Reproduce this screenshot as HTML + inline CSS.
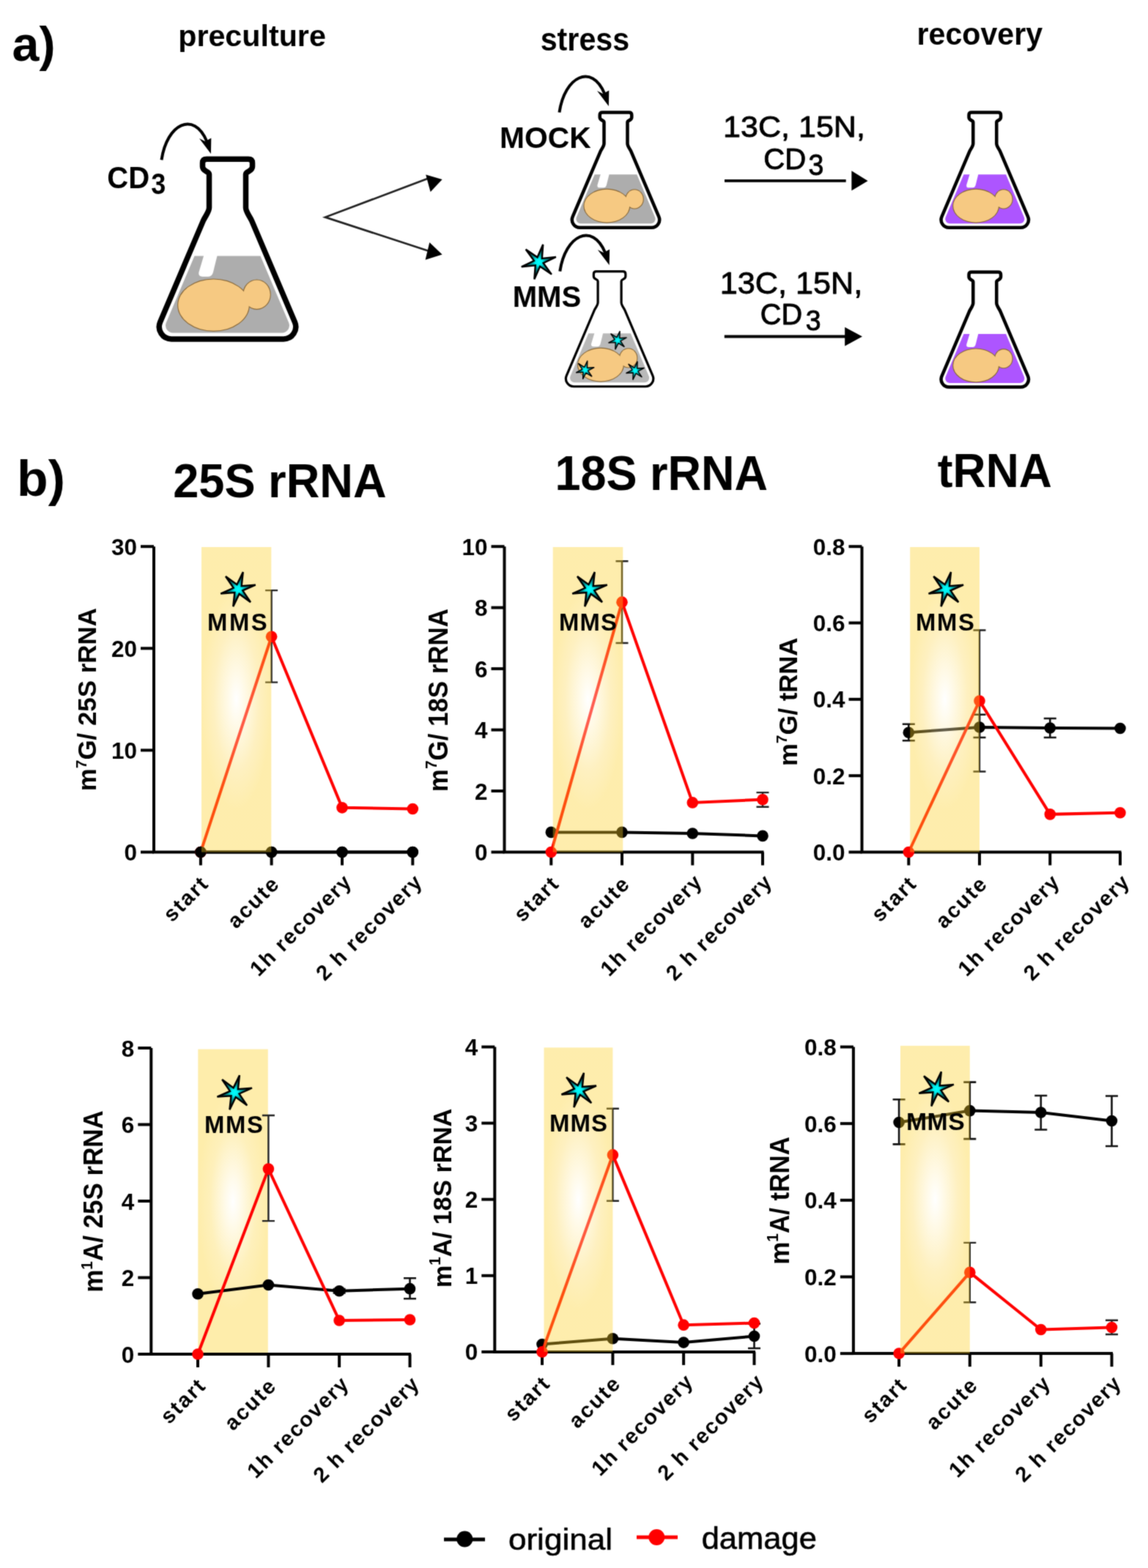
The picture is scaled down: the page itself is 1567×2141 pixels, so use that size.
<!DOCTYPE html>
<html><head><meta charset="utf-8"><title>Figure</title>
<style>html,body{margin:0;padding:0;background:#fff;}svg{display:block;}</style>
</head><body>
<svg width="1567" height="2141" viewBox="0 0 1567 2141" font-family="'Liberation Sans', Arial, Helvetica, sans-serif">

<defs>
  <filter id="soft" x="0" y="0" width="1" height="1" filterUnits="objectBoundingBox" color-interpolation-filters="sRGB">
    <feConvolveMatrix order="3" kernelMatrix="0.0277 0.111 0.0277 0.111 0.446 0.111 0.0277 0.111 0.0277" edgeMode="duplicate" preserveAlpha="false"/>
  </filter>
  <radialGradient id="starg" cx="0.5" cy="0.5" r="0.5">
    <stop offset="0" stop-color="#00ffff"/>
    <stop offset="0.2" stop-color="#00eeee"/>
    <stop offset="0.4" stop-color="#009a9a"/>
    <stop offset="0.7" stop-color="#005050"/>
    <stop offset="1" stop-color="#002020"/>
  </radialGradient>
  <radialGradient id="bandg" cx="0.5" cy="0.5" r="0.5" gradientTransform="translate(0.5 0.5) scale(1 0.72) translate(-0.5 -0.5)">
    <stop offset="0" stop-color="#ffffff"/>
    <stop offset="0.2" stop-color="#fffbec"/>
    <stop offset="0.65" stop-color="#fef0bb"/>
    <stop offset="1" stop-color="#feedab"/>
  </radialGradient>
  <radialGradient id="bandt" cx="0.5" cy="0.5" r="0.5" gradientTransform="translate(0.5 0.5) scale(1 0.72) translate(-0.5 -0.5)">
    <stop offset="0" stop-color="#ffffff" stop-opacity="0.38"/>
    <stop offset="0.2" stop-color="#fff4cc" stop-opacity="0.38"/>
    <stop offset="0.65" stop-color="#fcd85a" stop-opacity="0.38"/>
    <stop offset="1" stop-color="#fcd026" stop-opacity="0.38"/>
  </radialGradient>
</defs>

<g filter="url(#soft)">
<rect width="1567" height="2141" fill="#fff"/>
<text transform="translate(16.61 82.61) scale(0.6642 0.6755)" font-size="100" font-weight="bold" >a)</text>
<text transform="translate(243.21 63.4) scale(0.4125 0.4000)" font-size="100" font-weight="bold" >preculture</text>
<text transform="translate(737.65 68.86) scale(0.4126 0.4439)" font-size="100" font-weight="bold" >stress</text>
<text transform="translate(1251.52 60.66) scale(0.4117 0.4160)" font-size="100" font-weight="bold" >recovery</text>
<g transform="translate(310.5 213.6) scale(1)">
<path d="M -25 70 L -25 24.5 C -25 20 -34 21 -34 14 L -34 9 Q -34 3.75 -28.5 3.75 L 28.5 3.75 Q 34 3.75 34 9 L 34 14 C 34 21 25 20 25 24.5 L 25 70 C 25 76 30.66 82 33.21 88 L 91.89 226.07 A 16.7 16.7 0 0 1 76.52 249.3 L -76.52 249.3 A 16.7 16.7 0 0 1 -91.89 226.07 L -33.21 88 C -30.66 82 -25 76 -25 70 Z" fill="#fff"/>
<path d="M -45.01 136 L 45.01 136 L 83.64 226.89 A 10 10 0 0 1 74.43 240.8 L -74.43 240.8 A 10 10 0 0 1 -83.64 226.89 Z" fill="#adadad"/>
<path d="M -31.9 134 L -13.6 134 L -19.5 158 Q -21 164.1 -26 164.1 L -34 164.1 Q -40.5 164.1 -39 158 Z" fill="#fff"/>
<g transform="translate(0 205) scale(1) translate(0 -205)">
<ellipse cx="-19" cy="203" rx="48.3" ry="35" fill="none" stroke="#8a6a3a" stroke-width="2.2"/>
<ellipse cx="40" cy="188.6" rx="18.2" ry="19.6" fill="none" stroke="#8a6a3a" stroke-width="2.2"/>
<ellipse cx="-19" cy="203" rx="48.3" ry="35" fill="#f6c982"/>
<ellipse cx="40" cy="188.6" rx="18.2" ry="19.6" fill="#f6c982"/>
</g>
<path d="M -25 70 L -25 24.5 C -25 20 -34 21 -34 14 L -34 9 Q -34 3.75 -28.5 3.75 L 28.5 3.75 Q 34 3.75 34 9 L 34 14 C 34 21 25 20 25 24.5 L 25 70 C 25 76 30.66 82 33.21 88 L 91.89 226.07 A 16.7 16.7 0 0 1 76.52 249.3 L -76.52 249.3 A 16.7 16.7 0 0 1 -91.89 226.07 L -33.21 88 C -30.66 82 -25 76 -25 70 Z" fill="none" stroke="#000" stroke-width="7.5" stroke-linejoin="round"/>
</g>
<path d="M 220.5 218.4 C 227.69 168.71 264.85 151.36 282 192.4" fill="none" stroke="#000" stroke-width="4"/><path d="M 287.9 210 L 272 188.9 L 280 192.9 L 288.3 188.4 Z" fill="#000"/>
<text transform="translate(146.2 257.17) scale(0.4007 0.4310)" font-size="100" font-weight="bold" >CD</text>
<text transform="translate(206.28 264.9) scale(0.3600 0.4042)" font-size="100" font-weight="bold" >3</text>
<path d="M 586 243 L 444 296.6 L 586 343" fill="none" stroke="#222" stroke-width="2.7" stroke-linejoin="miter"/>
<path d="M 603.6 244.9 L 581.2 238.5 L 587.6 262.1 Z" fill="#000"/>
<path d="M 603.6 347.6 L 586.3 331 L 580.6 354.7 Z" fill="#000"/>
<g transform="translate(840.5 151.2) scale(0.64)">
<path d="M -25 70 L -25 24.5 C -25 20 -34 21 -34 14 L -34 9 Q -34 3.75 -28.5 3.75 L 28.5 3.75 Q 34 3.75 34 9 L 34 14 C 34 21 25 20 25 24.5 L 25 70 C 25 76 30.66 82 33.21 88 L 91.89 226.07 A 16.7 16.7 0 0 1 76.52 249.3 L -76.52 249.3 A 16.7 16.7 0 0 1 -91.89 226.07 L -33.21 88 C -30.66 82 -25 76 -25 70 Z" fill="#fff"/>
<path d="M -45.01 136 L 45.01 136 L 83.64 226.89 A 10 10 0 0 1 74.43 240.8 L -74.43 240.8 A 10 10 0 0 1 -83.64 226.89 Z" fill="#adadad"/>
<path d="M -31.9 134 L -13.6 134 L -19.5 158 Q -21 164.1 -26 164.1 L -34 164.1 Q -40.5 164.1 -39 158 Z" fill="#fff"/>
<g transform="translate(0 205) scale(1) translate(0 -205)">
<ellipse cx="-19" cy="203" rx="48.3" ry="35" fill="none" stroke="#8a6a3a" stroke-width="3.46"/>
<ellipse cx="40" cy="188.6" rx="18.2" ry="19.6" fill="none" stroke="#8a6a3a" stroke-width="3.46"/>
<ellipse cx="-19" cy="203" rx="48.3" ry="35" fill="#f6c982"/>
<ellipse cx="40" cy="188.6" rx="18.2" ry="19.6" fill="#f6c982"/>
</g>
<path d="M -25 70 L -25 24.5 C -25 20 -34 21 -34 14 L -34 9 Q -34 3.75 -28.5 3.75 L 28.5 3.75 Q 34 3.75 34 9 L 34 14 C 34 21 25 20 25 24.5 L 25 70 C 25 76 30.66 82 33.21 88 L 91.89 226.07 A 16.7 16.7 0 0 1 76.52 249.3 L -76.52 249.3 A 16.7 16.7 0 0 1 -91.89 226.07 L -33.21 88 C -30.66 82 -25 76 -25 70 Z" fill="none" stroke="#000" stroke-width="7.08" stroke-linejoin="round"/>
</g>
<path d="M 763.5 153.5 C 770.69 103.81 807.85 86.46 825 127.5" fill="none" stroke="#000" stroke-width="4"/><path d="M 830.9 145.1 L 815 124 L 823 128 L 831.3 123.5 Z" fill="#000"/>
<text transform="translate(681.94 201.89) scale(0.4081 0.4141)" font-size="100" font-weight="bold" >MOCK</text>
<g transform="translate(832.1 368.2) scale(0.64)">
<path d="M -25 70 L -25 24.5 C -25 20 -34 21 -34 14 L -34 9 Q -34 3.75 -28.5 3.75 L 28.5 3.75 Q 34 3.75 34 9 L 34 14 C 34 21 25 20 25 24.5 L 25 70 C 25 76 30.66 82 33.21 88 L 91.89 226.07 A 16.7 16.7 0 0 1 76.52 249.3 L -76.52 249.3 A 16.7 16.7 0 0 1 -91.89 226.07 L -33.21 88 C -30.66 82 -25 76 -25 70 Z" fill="#fff"/>
<path d="M -45.01 136 L 45.01 136 L 83.64 226.89 A 10 10 0 0 1 74.43 240.8 L -74.43 240.8 A 10 10 0 0 1 -83.64 226.89 Z" fill="#b9b9b9"/>
<path d="M -31.9 134 L -13.6 134 L -19.5 158 Q -21 164.1 -26 164.1 L -34 164.1 Q -40.5 164.1 -39 158 Z" fill="#fff"/>
<g transform="translate(0 205) scale(1) translate(0 -205)">
<ellipse cx="-19" cy="203" rx="48.3" ry="35" fill="none" stroke="#8a6a3a" stroke-width="3.46"/>
<ellipse cx="40" cy="188.6" rx="18.2" ry="19.6" fill="none" stroke="#8a6a3a" stroke-width="3.46"/>
<ellipse cx="-19" cy="203" rx="48.3" ry="35" fill="#f6c982"/>
<ellipse cx="40" cy="188.6" rx="18.2" ry="19.6" fill="#f6c982"/>
</g>
<path d="M -25 70 L -25 24.5 C -25 20 -34 21 -34 14 L -34 9 Q -34 3.75 -28.5 3.75 L 28.5 3.75 Q 34 3.75 34 9 L 34 14 C 34 21 25 20 25 24.5 L 25 70 C 25 76 30.66 82 33.21 88 L 91.89 226.07 A 16.7 16.7 0 0 1 76.52 249.3 L -76.52 249.3 A 16.7 16.7 0 0 1 -91.89 226.07 L -33.21 88 C -30.66 82 -25 76 -25 70 Z" fill="none" stroke="#000" stroke-width="5.03" stroke-linejoin="round"/>
</g>
<polygon points="846.14,451.99 845.89,461.61 855.5,461.02 847.04,465.61 852.35,473.63 844.15,468.6 839.86,477.21 840.11,467.59 830.5,468.18 838.96,463.59 833.65,455.57 841.85,460.6" fill="url(#starg)" stroke="#000" stroke-width="1.3" stroke-linejoin="miter"/>
<polygon points="801.84,492.59 801.59,502.21 811.2,501.62 802.74,506.21 808.05,514.23 799.85,509.2 795.56,517.81 795.81,508.19 786.2,508.78 794.66,504.19 789.35,496.17 797.55,501.2" fill="url(#starg)" stroke="#000" stroke-width="1.3" stroke-linejoin="miter"/>
<polygon points="870.14,493.39 869.89,503.01 879.5,502.42 871.04,507.01 876.35,515.03 868.15,510 863.86,518.61 864.11,508.99 854.5,509.58 862.96,504.99 857.65,496.97 865.85,502" fill="url(#starg)" stroke="#000" stroke-width="1.3" stroke-linejoin="miter"/>
<path d="M 764.3 370.5 C 771.49 320.81 808.65 303.46 825.8 344.5" fill="none" stroke="#000" stroke-width="4"/><path d="M 831.7 362.1 L 815.8 341 L 823.8 345 L 832.1 340.5 Z" fill="#000"/>
<polygon points="741.23,333.83 739.82,352.92 758.85,350.85 741.61,359.17 752.92,374.62 737.09,363.85 729.37,381.37 730.78,362.28 711.75,364.35 728.99,356.03 717.68,340.58 733.51,351.35" fill="url(#starg)" stroke="#000" stroke-width="2.4" stroke-linejoin="miter"/>
<text transform="translate(699.69 418.8) scale(0.4014 0.4028)" font-size="100" font-weight="bold" >MMS</text>
<text transform="translate(987.11 187.45) scale(0.4305 0.4157)" font-size="100" font-weight="normal"  stroke="#000" stroke-width="2.13" stroke-linejoin="round">13C, 15N,</text>
<text transform="translate(1042.14 230.65) scale(0.4022 0.4042)" font-size="100" font-weight="normal"  stroke="#000" stroke-width="2.23" stroke-linejoin="round">CD</text>
<text transform="translate(1103.55 238.65) scale(0.3745 0.4028)" font-size="100" font-weight="normal"  stroke="#000" stroke-width="2.32" stroke-linejoin="round">3</text>
<line x1="989" y1="246.9" x2="1154.7" y2="246.9" stroke="#000" stroke-width="3.8"/>
<path d="M 1162.4 233.3 L 1162.4 260.3 L 1184.6 247 Z" fill="#000"/>
<text transform="translate(982.69 400.84) scale(0.4323 0.4241)" font-size="100" font-weight="normal"  stroke="#000" stroke-width="2.10" stroke-linejoin="round">13C, 15N,</text>
<text transform="translate(1037.76 442.94) scale(0.3970 0.4070)" font-size="100" font-weight="normal"  stroke="#000" stroke-width="2.24" stroke-linejoin="round">CD</text>
<text transform="translate(1099.85 451.16) scale(0.3745 0.3887)" font-size="100" font-weight="normal"  stroke="#000" stroke-width="2.36" stroke-linejoin="round">3</text>
<line x1="988.8" y1="459.5" x2="1155" y2="459.5" stroke="#000" stroke-width="3.8"/>
<path d="M 1153.2 446.7 L 1153.2 472.4 L 1177 459.5 Z" fill="#000"/>
<g transform="translate(1344.3 151.2) scale(0.64)">
<path d="M -25 70 L -25 24.5 C -25 20 -34 21 -34 14 L -34 9 Q -34 3.75 -28.5 3.75 L 28.5 3.75 Q 34 3.75 34 9 L 34 14 C 34 21 25 20 25 24.5 L 25 70 C 25 76 30.66 82 33.21 88 L 91.89 226.07 A 16.7 16.7 0 0 1 76.52 249.3 L -76.52 249.3 A 16.7 16.7 0 0 1 -91.89 226.07 L -33.21 88 C -30.66 82 -25 76 -25 70 Z" fill="#fff"/>
<path d="M -45.01 136 L 45.01 136 L 83.64 226.89 A 10 10 0 0 1 74.43 240.8 L -74.43 240.8 A 10 10 0 0 1 -83.64 226.89 Z" fill="#ad55ff"/>
<path d="M -31.9 134 L -13.6 134 L -19.5 158 Q -21 164.1 -26 164.1 L -34 164.1 Q -40.5 164.1 -39 158 Z" fill="#fff"/>
<g transform="translate(0 205) scale(1) translate(0 -205)">
<ellipse cx="-19" cy="203" rx="48.3" ry="35" fill="none" stroke="#8a6a3a" stroke-width="3.46"/>
<ellipse cx="40" cy="188.6" rx="18.2" ry="19.6" fill="none" stroke="#8a6a3a" stroke-width="3.46"/>
<ellipse cx="-19" cy="203" rx="48.3" ry="35" fill="#f6c982"/>
<ellipse cx="40" cy="188.6" rx="18.2" ry="19.6" fill="#f6c982"/>
</g>
<path d="M -25 70 L -25 24.5 C -25 20 -34 21 -34 14 L -34 9 Q -34 3.75 -28.5 3.75 L 28.5 3.75 Q 34 3.75 34 9 L 34 14 C 34 21 25 20 25 24.5 L 25 70 C 25 76 30.66 82 33.21 88 L 91.89 226.07 A 16.7 16.7 0 0 1 76.52 249.3 L -76.52 249.3 A 16.7 16.7 0 0 1 -91.89 226.07 L -33.21 88 C -30.66 82 -25 76 -25 70 Z" fill="none" stroke="#000" stroke-width="7.08" stroke-linejoin="round"/>
</g>
<g transform="translate(1344.3 369) scale(0.64)">
<path d="M -25 70 L -25 24.5 C -25 20 -34 21 -34 14 L -34 9 Q -34 3.75 -28.5 3.75 L 28.5 3.75 Q 34 3.75 34 9 L 34 14 C 34 21 25 20 25 24.5 L 25 70 C 25 76 30.66 82 33.21 88 L 91.89 226.07 A 16.7 16.7 0 0 1 76.52 249.3 L -76.52 249.3 A 16.7 16.7 0 0 1 -91.89 226.07 L -33.21 88 C -30.66 82 -25 76 -25 70 Z" fill="#fff"/>
<path d="M -45.01 136 L 45.01 136 L 83.64 226.89 A 10 10 0 0 1 74.43 240.8 L -74.43 240.8 A 10 10 0 0 1 -83.64 226.89 Z" fill="#ad55ff"/>
<path d="M -31.9 134 L -13.6 134 L -19.5 158 Q -21 164.1 -26 164.1 L -34 164.1 Q -40.5 164.1 -39 158 Z" fill="#fff"/>
<g transform="translate(0 205) scale(1) translate(0 -205)">
<ellipse cx="-19" cy="203" rx="48.3" ry="35" fill="none" stroke="#8a6a3a" stroke-width="3.46"/>
<ellipse cx="40" cy="188.6" rx="18.2" ry="19.6" fill="none" stroke="#8a6a3a" stroke-width="3.46"/>
<ellipse cx="-19" cy="203" rx="48.3" ry="35" fill="#f6c982"/>
<ellipse cx="40" cy="188.6" rx="18.2" ry="19.6" fill="#f6c982"/>
</g>
<path d="M -25 70 L -25 24.5 C -25 20 -34 21 -34 14 L -34 9 Q -34 3.75 -28.5 3.75 L 28.5 3.75 Q 34 3.75 34 9 L 34 14 C 34 21 25 20 25 24.5 L 25 70 C 25 76 30.66 82 33.21 88 L 91.89 226.07 A 16.7 16.7 0 0 1 76.52 249.3 L -76.52 249.3 A 16.7 16.7 0 0 1 -91.89 226.07 L -33.21 88 C -30.66 82 -25 76 -25 70 Z" fill="none" stroke="#000" stroke-width="7.08" stroke-linejoin="round"/>
</g>
<text transform="translate(23.02 676.59) scale(0.6976 0.6862)" font-size="100" font-weight="bold" >b)</text>
<text transform="translate(236.21 678.95) scale(0.6316 0.6507)" font-size="100" font-weight="bold" >25S rRNA</text>
<text transform="translate(757.42 668.84) scale(0.6303 0.6620)" font-size="100" font-weight="bold" >18S rRNA</text>
<text transform="translate(1279.78 665.34) scale(0.6244 0.6571)" font-size="100" font-weight="bold" >tRNA</text>
<path d="M 210 746.2 L 210 1163.5 L 564.8 1163.5" fill="none" stroke="#000" stroke-width="4" stroke-linejoin="miter"/>
<line x1="192" y1="1163.5" x2="210" y2="1163.5" stroke="#000" stroke-width="4"/>
<text x="187" y="1175" font-size="31.5" font-weight="bold" text-anchor="end" >0</text>
<line x1="192" y1="1024.4" x2="210" y2="1024.4" stroke="#000" stroke-width="4"/>
<text x="187" y="1035.9" font-size="31.5" font-weight="bold" text-anchor="end" >10</text>
<line x1="192" y1="885.3" x2="210" y2="885.3" stroke="#000" stroke-width="4"/>
<text x="187" y="896.8" font-size="31.5" font-weight="bold" text-anchor="end" >20</text>
<line x1="192" y1="746.2" x2="210" y2="746.2" stroke="#000" stroke-width="4"/>
<text x="187" y="757.7" font-size="31.5" font-weight="bold" text-anchor="end" >30</text>
<line x1="273.9" y1="1163.5" x2="273.9" y2="1181.5" stroke="#000" stroke-width="4"/>
<line x1="370.6" y1="1163.5" x2="370.6" y2="1181.5" stroke="#000" stroke-width="4"/>
<line x1="467" y1="1163.5" x2="467" y2="1181.5" stroke="#000" stroke-width="4"/>
<line x1="563.3" y1="1163.5" x2="563.3" y2="1181.5" stroke="#000" stroke-width="4"/>
<text transform="translate(286.96 1207.94) rotate(-45)" font-size="29" font-weight="bold" text-anchor="end" letter-spacing="2.2">start</text>
<text transform="translate(383.66 1207.94) rotate(-45)" font-size="29" font-weight="bold" text-anchor="end" letter-spacing="2.2">acute</text>
<text transform="translate(482.27 1205.23) rotate(-45)" font-size="29" font-weight="bold" text-anchor="end" letter-spacing="1.8">1h recovery</text>
<text transform="translate(578.5 1205.3) rotate(-45)" font-size="29" font-weight="bold" text-anchor="end" letter-spacing="1.7">2 h recovery</text>
<text transform="translate(131.36 1080.24) rotate(-90) scale(0.3489 0.3427)" font-size="100" font-weight="bold">m<tspan font-size="60" dy="-40">7</tspan><tspan dy="40">G/ 25S rRNA</tspan></text>
<path d="M 370.6 931.62 L 370.6 806.15 M 362.1 931.62 L 379.1 931.62 M 362.1 806.15 L 379.1 806.15" stroke="#222" stroke-width="2.4" fill="none"/>
<polyline points="273.9,1163.5 370.6,1163.5 467,1163.5 563.3,1163.5" fill="none" stroke="#000" stroke-width="4"/>
<circle cx="273.9" cy="1163.5" r="7.8" fill="#000"/>
<circle cx="370.6" cy="1163.5" r="7.8" fill="#000"/>
<circle cx="467" cy="1163.5" r="7.8" fill="#000"/>
<circle cx="563.3" cy="1163.5" r="7.8" fill="#000"/>
<polyline points="273.9,1163.5 370.6,869.3 467,1102.85 563.3,1104.52" fill="none" stroke="#ff0000" stroke-width="4"/>
<circle cx="273.9" cy="1163.5" r="7.8" fill="#ff0000"/>
<circle cx="370.6" cy="869.3" r="7.8" fill="#ff0000"/>
<circle cx="467" cy="1102.85" r="7.8" fill="#ff0000"/>
<circle cx="563.3" cy="1104.52" r="7.8" fill="#ff0000"/>
<circle cx="273.9" cy="1163.5" r="7.8" fill="#000"/>
<circle cx="370.6" cy="1163.5" r="7.8" fill="#000"/>
<circle cx="467" cy="1163.5" r="7.8" fill="#000"/>
<circle cx="563.3" cy="1163.5" r="7.8" fill="#000"/>
<rect x="275" y="747" width="95.3" height="416.5" fill="url(#bandt)"/>
<polygon points="331.75,781.05 329.68,800.08 348.77,798.67 331.25,806.39 342.02,822.22 326.57,810.91 318.25,828.15 320.32,809.12 301.23,810.53 318.75,802.81 307.98,786.98 323.43,798.29" fill="url(#starg)" stroke="#000" stroke-width="2.4" stroke-linejoin="miter"/>
<text transform="translate(283.1 861.37) scale(0.3282 0.3282)" font-size="100" font-weight="bold"  letter-spacing="7.54">MMS</text>
<path d="M 688.5 746.2 L 688.5 1163.5 L 1042.5 1163.5" fill="none" stroke="#000" stroke-width="4" stroke-linejoin="miter"/>
<line x1="670.5" y1="1163.5" x2="688.5" y2="1163.5" stroke="#000" stroke-width="4"/>
<text x="665.5" y="1175" font-size="31.5" font-weight="bold" text-anchor="end" >0</text>
<line x1="670.5" y1="1080.04" x2="688.5" y2="1080.04" stroke="#000" stroke-width="4"/>
<text x="665.5" y="1091.54" font-size="31.5" font-weight="bold" text-anchor="end" >2</text>
<line x1="670.5" y1="996.58" x2="688.5" y2="996.58" stroke="#000" stroke-width="4"/>
<text x="665.5" y="1008.08" font-size="31.5" font-weight="bold" text-anchor="end" >4</text>
<line x1="670.5" y1="913.12" x2="688.5" y2="913.12" stroke="#000" stroke-width="4"/>
<text x="665.5" y="924.62" font-size="31.5" font-weight="bold" text-anchor="end" >6</text>
<line x1="670.5" y1="829.66" x2="688.5" y2="829.66" stroke="#000" stroke-width="4"/>
<text x="665.5" y="841.16" font-size="31.5" font-weight="bold" text-anchor="end" >8</text>
<line x1="670.5" y1="746.2" x2="688.5" y2="746.2" stroke="#000" stroke-width="4"/>
<text x="665.5" y="757.7" font-size="31.5" font-weight="bold" text-anchor="end" >10</text>
<line x1="752.3" y1="1163.5" x2="752.3" y2="1181.5" stroke="#000" stroke-width="4"/>
<line x1="849" y1="1163.5" x2="849" y2="1181.5" stroke="#000" stroke-width="4"/>
<line x1="945.3" y1="1163.5" x2="945.3" y2="1181.5" stroke="#000" stroke-width="4"/>
<line x1="1041" y1="1163.5" x2="1041" y2="1181.5" stroke="#000" stroke-width="4"/>
<text transform="translate(765.36 1207.94) rotate(-45)" font-size="29" font-weight="bold" text-anchor="end" letter-spacing="2.2">start</text>
<text transform="translate(862.06 1207.94) rotate(-45)" font-size="29" font-weight="bold" text-anchor="end" letter-spacing="2.2">acute</text>
<text transform="translate(960.57 1205.23) rotate(-45)" font-size="29" font-weight="bold" text-anchor="end" letter-spacing="1.8">1h recovery</text>
<text transform="translate(1056.2 1205.3) rotate(-45)" font-size="29" font-weight="bold" text-anchor="end" letter-spacing="1.7">2 h recovery</text>
<text transform="translate(610.63 1081.14) rotate(-90) scale(0.3489 0.3683)" font-size="100" font-weight="bold">m<tspan font-size="60" dy="-40">7</tspan><tspan dy="40">G/ 18S rRNA</tspan></text>
<path d="M 849 878.07 L 849 766.23 M 840.5 878.07 L 857.5 878.07 M 840.5 766.23 L 857.5 766.23" stroke="#222" stroke-width="2.4" fill="none"/>
<path d="M 1041 1101.74 L 1041 1082.13 M 1032.5 1101.74 L 1049.5 1101.74 M 1032.5 1082.13 L 1049.5 1082.13" stroke="#222" stroke-width="2.4" fill="none"/>
<polyline points="752.3,1136.38 849,1136.38 945.3,1138.04 1041,1141.38" fill="none" stroke="#000" stroke-width="4"/>
<circle cx="752.3" cy="1136.38" r="7.8" fill="#000"/>
<circle cx="849" cy="1136.38" r="7.8" fill="#000"/>
<circle cx="945.3" cy="1138.04" r="7.8" fill="#000"/>
<circle cx="1041" cy="1141.38" r="7.8" fill="#000"/>
<polyline points="752.3,1163.5 849,822.15 945.3,1095.9 1041,1091.72" fill="none" stroke="#ff0000" stroke-width="4"/>
<circle cx="752.3" cy="1163.5" r="7.8" fill="#ff0000"/>
<circle cx="849" cy="822.15" r="7.8" fill="#ff0000"/>
<circle cx="945.3" cy="1095.9" r="7.8" fill="#ff0000"/>
<circle cx="1041" cy="1091.72" r="7.8" fill="#ff0000"/>
<rect x="754.7" y="747" width="95.6" height="416.5" fill="url(#bandt)"/>
<polygon points="811.75,781.05 809.68,800.08 828.77,798.67 811.25,806.39 822.02,822.22 806.57,810.91 798.25,828.15 800.32,809.12 781.23,810.53 798.75,802.81 787.98,786.98 803.43,798.29" fill="url(#starg)" stroke="#000" stroke-width="2.4" stroke-linejoin="miter"/>
<text transform="translate(763.1 861.37) scale(0.3282 0.3282)" font-size="100" font-weight="bold"  letter-spacing="3.58">MMS</text>
<path d="M 1176.5 746.2 L 1176.5 1163.5 L 1530.5 1163.5" fill="none" stroke="#000" stroke-width="4" stroke-linejoin="miter"/>
<line x1="1158.5" y1="1163.5" x2="1176.5" y2="1163.5" stroke="#000" stroke-width="4"/>
<text x="1153.5" y="1175" font-size="31.5" font-weight="bold" text-anchor="end" >0.0</text>
<line x1="1158.5" y1="1059.17" x2="1176.5" y2="1059.17" stroke="#000" stroke-width="4"/>
<text x="1153.5" y="1070.67" font-size="31.5" font-weight="bold" text-anchor="end" >0.2</text>
<line x1="1158.5" y1="954.85" x2="1176.5" y2="954.85" stroke="#000" stroke-width="4"/>
<text x="1153.5" y="966.35" font-size="31.5" font-weight="bold" text-anchor="end" >0.4</text>
<line x1="1158.5" y1="850.53" x2="1176.5" y2="850.53" stroke="#000" stroke-width="4"/>
<text x="1153.5" y="862.03" font-size="31.5" font-weight="bold" text-anchor="end" >0.6</text>
<line x1="1158.5" y1="746.2" x2="1176.5" y2="746.2" stroke="#000" stroke-width="4"/>
<text x="1153.5" y="757.7" font-size="31.5" font-weight="bold" text-anchor="end" >0.8</text>
<line x1="1240.3" y1="1163.5" x2="1240.3" y2="1181.5" stroke="#000" stroke-width="4"/>
<line x1="1337" y1="1163.5" x2="1337" y2="1181.5" stroke="#000" stroke-width="4"/>
<line x1="1433.3" y1="1163.5" x2="1433.3" y2="1181.5" stroke="#000" stroke-width="4"/>
<line x1="1529" y1="1163.5" x2="1529" y2="1181.5" stroke="#000" stroke-width="4"/>
<text transform="translate(1253.36 1207.94) rotate(-45)" font-size="29" font-weight="bold" text-anchor="end" letter-spacing="2.2">start</text>
<text transform="translate(1350.06 1207.94) rotate(-45)" font-size="29" font-weight="bold" text-anchor="end" letter-spacing="2.2">acute</text>
<text transform="translate(1448.57 1205.23) rotate(-45)" font-size="29" font-weight="bold" text-anchor="end" letter-spacing="1.8">1h recovery</text>
<text transform="translate(1544.2 1205.3) rotate(-45)" font-size="29" font-weight="bold" text-anchor="end" letter-spacing="1.7">2 h recovery</text>
<text transform="translate(1088.15 1046.03) rotate(-90) scale(0.3470 0.3451)" font-size="100" font-weight="bold">m<tspan font-size="60" dy="-40">7</tspan><tspan dy="40">G/ tRNA</tspan></text>
<path d="M 1240.3 1011.19 L 1240.3 988.76 M 1231.8 1011.19 L 1248.8 1011.19 M 1231.8 988.76 L 1248.8 988.76" stroke="#111" stroke-width="2.6" fill="none"/>
<path d="M 1337 1007.01 L 1337 975.72 M 1328.5 1007.01 L 1345.5 1007.01 M 1328.5 975.72 L 1345.5 975.72" stroke="#111" stroke-width="2.6" fill="none"/>
<path d="M 1433.3 1007.01 L 1433.3 980.93 M 1424.8 1007.01 L 1441.8 1007.01 M 1424.8 980.93 L 1441.8 980.93" stroke="#111" stroke-width="2.6" fill="none"/>
<path d="M 1337 1053.44 L 1337 860.44 M 1328.5 1053.44 L 1345.5 1053.44 M 1328.5 860.44 L 1345.5 860.44" stroke="#222" stroke-width="2.4" fill="none"/>
<polyline points="1240.3,1000.23 1337,992.93 1433.3,993.97 1529,994.49" fill="none" stroke="#000" stroke-width="4"/>
<circle cx="1240.3" cy="1000.23" r="7.8" fill="#000"/>
<circle cx="1337" cy="992.93" r="7.8" fill="#000"/>
<circle cx="1433.3" cy="993.97" r="7.8" fill="#000"/>
<circle cx="1529" cy="994.49" r="7.8" fill="#000"/>
<polyline points="1240.3,1163.5 1337,956.94 1433.3,1111.86 1529,1109.77" fill="none" stroke="#ff0000" stroke-width="4"/>
<circle cx="1240.3" cy="1163.5" r="7.8" fill="#ff0000"/>
<circle cx="1337" cy="956.94" r="7.8" fill="#ff0000"/>
<circle cx="1433.3" cy="1111.86" r="7.8" fill="#ff0000"/>
<circle cx="1529" cy="1109.77" r="7.8" fill="#ff0000"/>
<rect x="1242.2" y="747" width="94.8" height="416.5" fill="url(#bandt)"/>
<polygon points="1298.05,781.05 1295.98,800.08 1315.07,798.67 1297.55,806.39 1308.32,822.22 1292.87,810.91 1284.55,828.15 1286.62,809.12 1267.53,810.53 1285.05,802.81 1274.28,786.98 1289.73,798.29" fill="url(#starg)" stroke="#000" stroke-width="2.4" stroke-linejoin="miter"/>
<text transform="translate(1250.1 861.37) scale(0.3282 0.3282)" font-size="100" font-weight="bold"  letter-spacing="5.10">MMS</text>
<rect x="270.3" y="1432.6" width="95.5" height="416.4" fill="url(#bandg)"/>
<path d="M 206.3 1431 L 206.3 1849 L 561 1849" fill="none" stroke="#000" stroke-width="4" stroke-linejoin="miter"/>
<line x1="188.3" y1="1849" x2="206.3" y2="1849" stroke="#000" stroke-width="4"/>
<text x="183.3" y="1860.5" font-size="31.5" font-weight="bold" text-anchor="end" >0</text>
<line x1="188.3" y1="1744.5" x2="206.3" y2="1744.5" stroke="#000" stroke-width="4"/>
<text x="183.3" y="1756" font-size="31.5" font-weight="bold" text-anchor="end" >2</text>
<line x1="188.3" y1="1640" x2="206.3" y2="1640" stroke="#000" stroke-width="4"/>
<text x="183.3" y="1651.5" font-size="31.5" font-weight="bold" text-anchor="end" >4</text>
<line x1="188.3" y1="1535.5" x2="206.3" y2="1535.5" stroke="#000" stroke-width="4"/>
<text x="183.3" y="1547" font-size="31.5" font-weight="bold" text-anchor="end" >6</text>
<line x1="188.3" y1="1431" x2="206.3" y2="1431" stroke="#000" stroke-width="4"/>
<text x="183.3" y="1442.5" font-size="31.5" font-weight="bold" text-anchor="end" >8</text>
<line x1="270" y1="1849" x2="270" y2="1867" stroke="#000" stroke-width="4"/>
<line x1="366.4" y1="1849" x2="366.4" y2="1867" stroke="#000" stroke-width="4"/>
<line x1="463.1" y1="1849" x2="463.1" y2="1867" stroke="#000" stroke-width="4"/>
<line x1="559.5" y1="1849" x2="559.5" y2="1867" stroke="#000" stroke-width="4"/>
<text transform="translate(283.06 1893.44) rotate(-45)" font-size="29" font-weight="bold" text-anchor="end" letter-spacing="2.2">start</text>
<text transform="translate(379.46 1893.44) rotate(-45)" font-size="29" font-weight="bold" text-anchor="end" letter-spacing="2.2">acute</text>
<text transform="translate(478.37 1890.73) rotate(-45)" font-size="29" font-weight="bold" text-anchor="end" letter-spacing="1.8">1h recovery</text>
<text transform="translate(574.7 1890.8) rotate(-45)" font-size="29" font-weight="bold" text-anchor="end" letter-spacing="1.7">2 h recovery</text>
<text transform="translate(140.04 1764.75) rotate(-90) scale(0.3496 0.3634)" font-size="100" font-weight="bold">m<tspan font-size="60" dy="-40">1</tspan><tspan dy="40">A/ 25S rRNA</tspan></text>
<path d="M 559.5 1773.24 L 559.5 1745.28 M 551 1773.24 L 568 1773.24 M 551 1745.28 L 568 1745.28" stroke="#111" stroke-width="2.6" fill="none"/>
<path d="M 463.1 1765.4 L 463.1 1760.17 M 454.6 1765.4 L 471.6 1765.4 M 454.6 1760.17 L 471.6 1760.17" stroke="#111" stroke-width="2.6" fill="none"/>
<path d="M 366.4 1667.17 L 366.4 1522.96 M 357.9 1667.17 L 374.9 1667.17 M 357.9 1522.96 L 374.9 1522.96" stroke="#222" stroke-width="2.4" fill="none"/>
<polyline points="270,1766.71 366.4,1754.43 463.1,1762.79 559.5,1759.65" fill="none" stroke="#000" stroke-width="4"/>
<circle cx="270" cy="1766.71" r="7.8" fill="#000"/>
<circle cx="366.4" cy="1754.43" r="7.8" fill="#000"/>
<circle cx="463.1" cy="1762.79" r="7.8" fill="#000"/>
<circle cx="559.5" cy="1759.65" r="7.8" fill="#000"/>
<polyline points="270,1849 366.4,1596.11 463.1,1803.02 559.5,1801.97" fill="none" stroke="#ff0000" stroke-width="4"/>
<circle cx="270" cy="1849" r="7.8" fill="#ff0000"/>
<circle cx="366.4" cy="1596.11" r="7.8" fill="#ff0000"/>
<circle cx="463.1" cy="1803.02" r="7.8" fill="#ff0000"/>
<circle cx="559.5" cy="1801.97" r="7.8" fill="#ff0000"/>
<polygon points="326.95,1468.15 324.88,1487.18 343.97,1485.77 326.45,1493.49 337.22,1509.32 321.77,1498.01 313.45,1515.25 315.52,1496.22 296.43,1497.63 313.95,1489.91 303.18,1474.08 318.63,1485.39" fill="url(#starg)" stroke="#000" stroke-width="2.4" stroke-linejoin="miter"/>
<text transform="translate(279 1546.87) scale(0.3282 0.3282)" font-size="100" font-weight="bold"  letter-spacing="5.10">MMS</text>
<path d="M 675.3 1429.5 L 675.3 1845.9 L 1031 1845.9" fill="none" stroke="#000" stroke-width="4" stroke-linejoin="miter"/>
<line x1="657.3" y1="1845.9" x2="675.3" y2="1845.9" stroke="#000" stroke-width="4"/>
<text x="652.3" y="1857.4" font-size="31.5" font-weight="bold" text-anchor="end" >0</text>
<line x1="657.3" y1="1741.8" x2="675.3" y2="1741.8" stroke="#000" stroke-width="4"/>
<text x="652.3" y="1753.3" font-size="31.5" font-weight="bold" text-anchor="end" >1</text>
<line x1="657.3" y1="1637.7" x2="675.3" y2="1637.7" stroke="#000" stroke-width="4"/>
<text x="652.3" y="1649.2" font-size="31.5" font-weight="bold" text-anchor="end" >2</text>
<line x1="657.3" y1="1533.6" x2="675.3" y2="1533.6" stroke="#000" stroke-width="4"/>
<text x="652.3" y="1545.1" font-size="31.5" font-weight="bold" text-anchor="end" >3</text>
<line x1="657.3" y1="1429.5" x2="675.3" y2="1429.5" stroke="#000" stroke-width="4"/>
<text x="652.3" y="1441" font-size="31.5" font-weight="bold" text-anchor="end" >4</text>
<line x1="740" y1="1845.9" x2="740" y2="1863.9" stroke="#000" stroke-width="4"/>
<line x1="836.4" y1="1845.9" x2="836.4" y2="1863.9" stroke="#000" stroke-width="4"/>
<line x1="933.1" y1="1845.9" x2="933.1" y2="1863.9" stroke="#000" stroke-width="4"/>
<line x1="1029.5" y1="1845.9" x2="1029.5" y2="1863.9" stroke="#000" stroke-width="4"/>
<text transform="translate(753.06 1890.34) rotate(-45)" font-size="29" font-weight="bold" text-anchor="end" letter-spacing="2.2">start</text>
<text transform="translate(849.46 1890.34) rotate(-45)" font-size="29" font-weight="bold" text-anchor="end" letter-spacing="2.2">acute</text>
<text transform="translate(948.37 1887.63) rotate(-45)" font-size="29" font-weight="bold" text-anchor="end" letter-spacing="1.8">1h recovery</text>
<text transform="translate(1044.7 1887.7) rotate(-45)" font-size="29" font-weight="bold" text-anchor="end" letter-spacing="1.7">2 h recovery</text>
<text transform="translate(615.54 1758.31) rotate(-90) scale(0.3439 0.3598)" font-size="100" font-weight="bold">m<tspan font-size="60" dy="-40">1</tspan><tspan dy="40">A/ 18S rRNA</tspan></text>
<path d="M 1029.5 1841.01 L 1029.5 1807.38 M 1021 1841.01 L 1038 1841.01 M 1021 1807.38 L 1038 1807.38" stroke="#111" stroke-width="2.6" fill="none"/>
<path d="M 836.4 1639.78 L 836.4 1513.82 M 827.9 1639.78 L 844.9 1639.78 M 827.9 1513.82 L 844.9 1513.82" stroke="#222" stroke-width="2.4" fill="none"/>
<polyline points="740,1835.59 836.4,1827.68 933.1,1833.1 1029.5,1824.46" fill="none" stroke="#000" stroke-width="4"/>
<circle cx="740" cy="1835.59" r="7.8" fill="#000"/>
<circle cx="836.4" cy="1827.68" r="7.8" fill="#000"/>
<circle cx="933.1" cy="1833.1" r="7.8" fill="#000"/>
<circle cx="1029.5" cy="1824.46" r="7.8" fill="#000"/>
<polyline points="740,1845.9 836.4,1576.91 933.1,1809.15 1029.5,1806.55" fill="none" stroke="#ff0000" stroke-width="4"/>
<circle cx="740" cy="1845.9" r="7.8" fill="#ff0000"/>
<circle cx="836.4" cy="1576.91" r="7.8" fill="#ff0000"/>
<circle cx="933.1" cy="1809.15" r="7.8" fill="#ff0000"/>
<circle cx="1029.5" cy="1806.55" r="7.8" fill="#ff0000"/>
<rect x="742.5" y="1430.4" width="93.9" height="415.5" fill="url(#bandt)"/>
<polygon points="796.95,1464.95 794.88,1483.98 813.97,1482.57 796.45,1490.29 807.22,1506.12 791.77,1494.81 783.45,1512.05 785.52,1493.02 766.43,1494.43 783.95,1486.71 773.18,1470.88 788.63,1482.19" fill="url(#starg)" stroke="#000" stroke-width="2.4" stroke-linejoin="miter"/>
<text transform="translate(749.89 1545.37) scale(0.3296 0.3296)" font-size="100" font-weight="bold"  letter-spacing="3.24">MMS</text>
<path d="M 1164.9 1429.5 L 1164.9 1848.1 L 1519 1848.1" fill="none" stroke="#000" stroke-width="4" stroke-linejoin="miter"/>
<line x1="1146.9" y1="1848.1" x2="1164.9" y2="1848.1" stroke="#000" stroke-width="4"/>
<text x="1141.9" y="1859.6" font-size="31.5" font-weight="bold" text-anchor="end" >0.0</text>
<line x1="1146.9" y1="1743.45" x2="1164.9" y2="1743.45" stroke="#000" stroke-width="4"/>
<text x="1141.9" y="1754.95" font-size="31.5" font-weight="bold" text-anchor="end" >0.2</text>
<line x1="1146.9" y1="1638.8" x2="1164.9" y2="1638.8" stroke="#000" stroke-width="4"/>
<text x="1141.9" y="1650.3" font-size="31.5" font-weight="bold" text-anchor="end" >0.4</text>
<line x1="1146.9" y1="1534.15" x2="1164.9" y2="1534.15" stroke="#000" stroke-width="4"/>
<text x="1141.9" y="1545.65" font-size="31.5" font-weight="bold" text-anchor="end" >0.6</text>
<line x1="1146.9" y1="1429.5" x2="1164.9" y2="1429.5" stroke="#000" stroke-width="4"/>
<text x="1141.9" y="1441" font-size="31.5" font-weight="bold" text-anchor="end" >0.8</text>
<line x1="1227.1" y1="1848.1" x2="1227.1" y2="1866.1" stroke="#000" stroke-width="4"/>
<line x1="1323.8" y1="1848.1" x2="1323.8" y2="1866.1" stroke="#000" stroke-width="4"/>
<line x1="1420.8" y1="1848.1" x2="1420.8" y2="1866.1" stroke="#000" stroke-width="4"/>
<line x1="1517.5" y1="1848.1" x2="1517.5" y2="1866.1" stroke="#000" stroke-width="4"/>
<text transform="translate(1240.16 1892.54) rotate(-45)" font-size="29" font-weight="bold" text-anchor="end" letter-spacing="2.2">start</text>
<text transform="translate(1336.86 1892.54) rotate(-45)" font-size="29" font-weight="bold" text-anchor="end" letter-spacing="2.2">acute</text>
<text transform="translate(1436.07 1889.83) rotate(-45)" font-size="29" font-weight="bold" text-anchor="end" letter-spacing="1.8">1h recovery</text>
<text transform="translate(1532.7 1889.9) rotate(-45)" font-size="29" font-weight="bold" text-anchor="end" letter-spacing="1.7">2 h recovery</text>
<text transform="translate(1077.12 1726.75) rotate(-90) scale(0.3494 0.3756)" font-size="100" font-weight="bold">m<tspan font-size="60" dy="-40">1</tspan><tspan dy="40">A/ tRNA</tspan></text>
<path d="M 1227.1 1562.41 L 1227.1 1501.19 M 1218.6 1562.41 L 1235.6 1562.41 M 1218.6 1501.19 L 1235.6 1501.19" stroke="#111" stroke-width="2.6" fill="none"/>
<path d="M 1323.8 1555.08 L 1323.8 1477.64 M 1315.3 1555.08 L 1332.3 1555.08 M 1315.3 1477.64 L 1332.3 1477.64" stroke="#111" stroke-width="2.6" fill="none"/>
<path d="M 1420.8 1542.52 L 1420.8 1495.95 M 1412.3 1542.52 L 1429.3 1542.52 M 1412.3 1495.95 L 1429.3 1495.95" stroke="#111" stroke-width="2.6" fill="none"/>
<path d="M 1517.5 1565.02 L 1517.5 1496.48 M 1509 1565.02 L 1526 1565.02 M 1509 1496.48 L 1526 1496.48" stroke="#111" stroke-width="2.6" fill="none"/>
<path d="M 1323.8 1778.19 L 1323.8 1696.88 M 1315.3 1778.19 L 1332.3 1778.19 M 1315.3 1696.88 L 1332.3 1696.88" stroke="#222" stroke-width="2.4" fill="none"/>
<path d="M 1517.5 1821.94 L 1517.5 1802.79 M 1509 1821.94 L 1526 1821.94 M 1509 1802.79 L 1526 1802.79" stroke="#222" stroke-width="2.4" fill="none"/>
<polyline points="1227.1,1532.58 1323.8,1516.62 1420.8,1518.98 1517.5,1530.49" fill="none" stroke="#000" stroke-width="4"/>
<circle cx="1227.1" cy="1532.58" r="7.8" fill="#000"/>
<circle cx="1323.8" cy="1516.62" r="7.8" fill="#000"/>
<circle cx="1420.8" cy="1518.98" r="7.8" fill="#000"/>
<circle cx="1517.5" cy="1530.49" r="7.8" fill="#000"/>
<polyline points="1227.1,1848.1 1323.8,1737.38 1420.8,1815.5 1517.5,1812.52" fill="none" stroke="#ff0000" stroke-width="4"/>
<circle cx="1227.1" cy="1848.1" r="7.8" fill="#ff0000"/>
<circle cx="1323.8" cy="1737.38" r="7.8" fill="#ff0000"/>
<circle cx="1420.8" cy="1815.5" r="7.8" fill="#ff0000"/>
<circle cx="1517.5" cy="1812.52" r="7.8" fill="#ff0000"/>
<rect x="1229" y="1427.9" width="94.8" height="420.2" fill="url(#bandt)"/>
<polygon points="1284.85,1463.35 1282.78,1482.38 1301.87,1480.97 1284.35,1488.69 1295.12,1504.52 1279.67,1493.21 1271.35,1510.45 1273.42,1491.42 1254.33,1492.83 1271.85,1485.11 1261.08,1469.28 1276.53,1480.59" fill="url(#starg)" stroke="#000" stroke-width="2.4" stroke-linejoin="miter"/>
<text transform="translate(1236.93 1542.76) scale(0.3380 0.3380)" font-size="100" font-weight="bold"  letter-spacing="1.56">MMS</text>
<line x1="606" y1="2102" x2="662" y2="2102" stroke="#000" stroke-width="5"/>
<circle cx="634.3" cy="2101.5" r="11" fill="#000"/>
<text transform="translate(693.94 2115.9) scale(0.4407 0.4096)" font-size="100" font-weight="normal"  stroke="#000" stroke-width="1.41" stroke-linejoin="round">original</text>
<line x1="869" y1="2099" x2="925" y2="2099" stroke="#ff0000" stroke-width="5"/>
<circle cx="896.3" cy="2099" r="11" fill="#ff0000"/>
<text transform="translate(957.66 2115.42) scale(0.4351 0.4181)" font-size="100" font-weight="normal"  stroke="#000" stroke-width="1.41" stroke-linejoin="round">damage</text>
</g>
</svg>
</body></html>
